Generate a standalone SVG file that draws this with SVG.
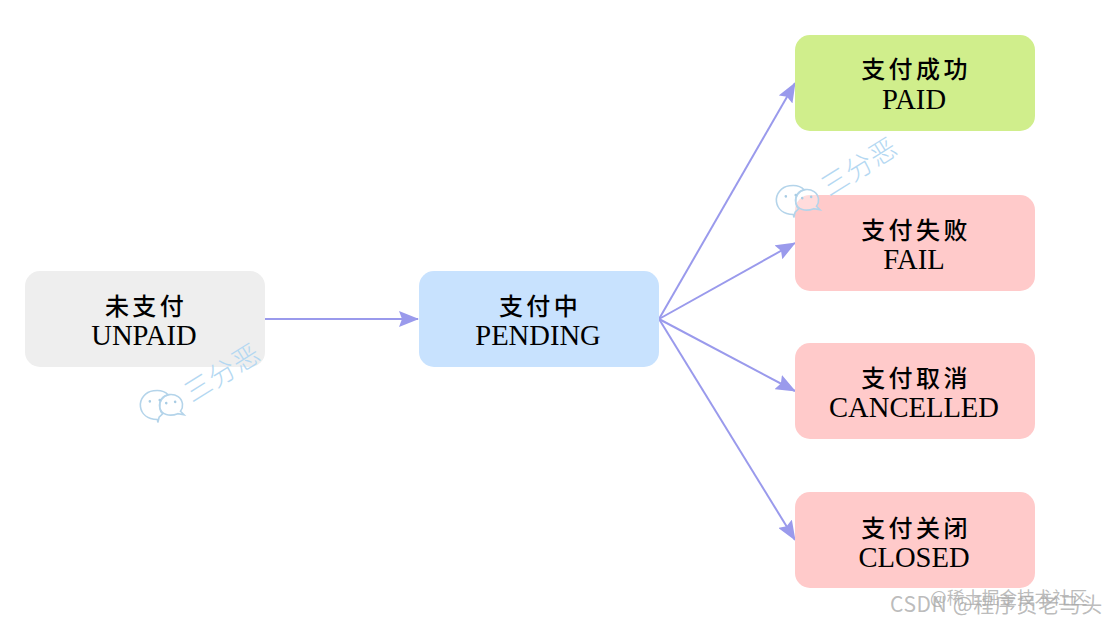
<svg xmlns="http://www.w3.org/2000/svg" width="1108" height="624" viewBox="0 0 1108 624">
<style>
.box{stroke:none}
.cn{font-family:"Liberation Serif","Noto Sans CJK SC",serif;font-size:24px;font-weight:500;letter-spacing:3.4px;fill:#000;text-anchor:middle}
.en{font-family:"Liberation Serif","Noto Sans CJK SC",serif;font-size:28.6px;fill:#000;text-anchor:middle}
.conn{fill:none;stroke:#9a9aec;stroke-width:2}
.wm{font-family:"Noto Sans CJK SC",sans-serif;font-size:27px;font-weight:300;letter-spacing:1px;fill:#b4d8f2}
.ic{fill:#fff;fill-opacity:.35;stroke:#b4d4ea;stroke-width:1.6}
.dot{fill:#a8cce4}
.f1{font-family:"Noto Sans CJK SC",sans-serif;fill:#aaa;fill-opacity:.8}
</style>
<defs>
<marker id="arr" viewBox="0 0 20 16" refX="19" refY="8" markerWidth="20" markerHeight="16" markerUnits="userSpaceOnUse" orient="auto"><path d="M0 0L20 8L0 16L3 8Z" fill="#9a9aec"/></marker>
<g id="wx">
<path class="ic" d="M-3 22C-13 20-18 14-18 7C-18-1-11-7-3-7C4-7 9-4 11-1C4 0 1 5 1 11C1 14 2 16 3 17L-1 20L-3 25Z"/>
<path class="ic" d="M1 10C1 4 6-1 12-1C19-1 24 4 24 10C24 13 23 15 21 17L24 21L18 19C10 21 1 18 1 10Z"/>
<circle class="dot" cx="-8" cy="3" r="1.3"/><circle class="dot" cx="2" cy="3" r="1.3"/>
<circle class="dot" cx="8" cy="7" r="1.3"/><circle class="dot" cx="17" cy="7" r="1.3"/>
</g>
</defs>
<rect width="1108" height="624" fill="#fff"/>
<g id="connectors">
<path class="conn" d="M265 319H418" marker-end="url(#arr)"/>
<path class="conn" d="M659 319L795 83" marker-end="url(#arr)"/>
<path class="conn" d="M659 319L795 243" marker-end="url(#arr)"/>
<path class="conn" d="M659 319L795 391" marker-end="url(#arr)"/>
<path class="conn" d="M659 319L795 540" marker-end="url(#arr)"/>
</g>
<g id="unpaid"><rect class="box" x="25" y="271" width="240" height="96" rx="15" fill="#eeeeee"/><text class="cn" x="146" y="315">未支付</text><text class="en" x="144" y="345">UNPAID</text></g>
<g id="pending"><rect class="box" x="419" y="271" width="240" height="96" rx="15" fill="#c8e2fe"/><text class="cn" x="540" y="315">支付中</text><text class="en" x="538" y="345">PENDING</text></g>
<g id="paid"><rect class="box" x="795" y="35" width="240" height="96" rx="15" fill="#d0ee8c"/><text class="cn" x="916" y="78">支付成功</text><text class="en" x="914" y="109">PAID</text></g>
<g id="fail"><rect class="box" x="795" y="195" width="240" height="96" rx="15" fill="#ffcaca"/><text class="cn" x="916" y="239">支付失败</text><text class="en" x="914" y="269">FAIL</text></g>
<g id="cancelled"><rect class="box" x="795" y="343" width="240" height="96" rx="15" fill="#ffcaca"/><text class="cn" x="916" y="387">支付取消</text><text class="en" x="914" y="417">CANCELLED</text></g>
<g id="closed"><rect class="box" x="795" y="492" width="240" height="96" rx="15" fill="#ffcaca"/><text class="cn" x="916" y="537">支付关闭</text><text class="en" x="914" y="567">CLOSED</text></g>
<g id="watermark-1"><use href="#wx" x="158" y="397" transform="rotate(-8 160 402)"/><text class="wm" transform="translate(192 403) rotate(-32)">三分恶</text></g>
<g id="watermark-2"><use href="#wx" x="794" y="192" transform="rotate(-8 796 197)"/><text class="wm" transform="translate(829 197) rotate(-32)">三分恶</text></g>
<g id="footer-marks"><text class="f1" x="930" y="604" style="font-size:17.6px">@稀土掘金技术社区</text><text class="f1" x="890" y="612" style="font-size:21px;letter-spacing:.6px">CSDN @程序员老马头</text></g>
</svg>
